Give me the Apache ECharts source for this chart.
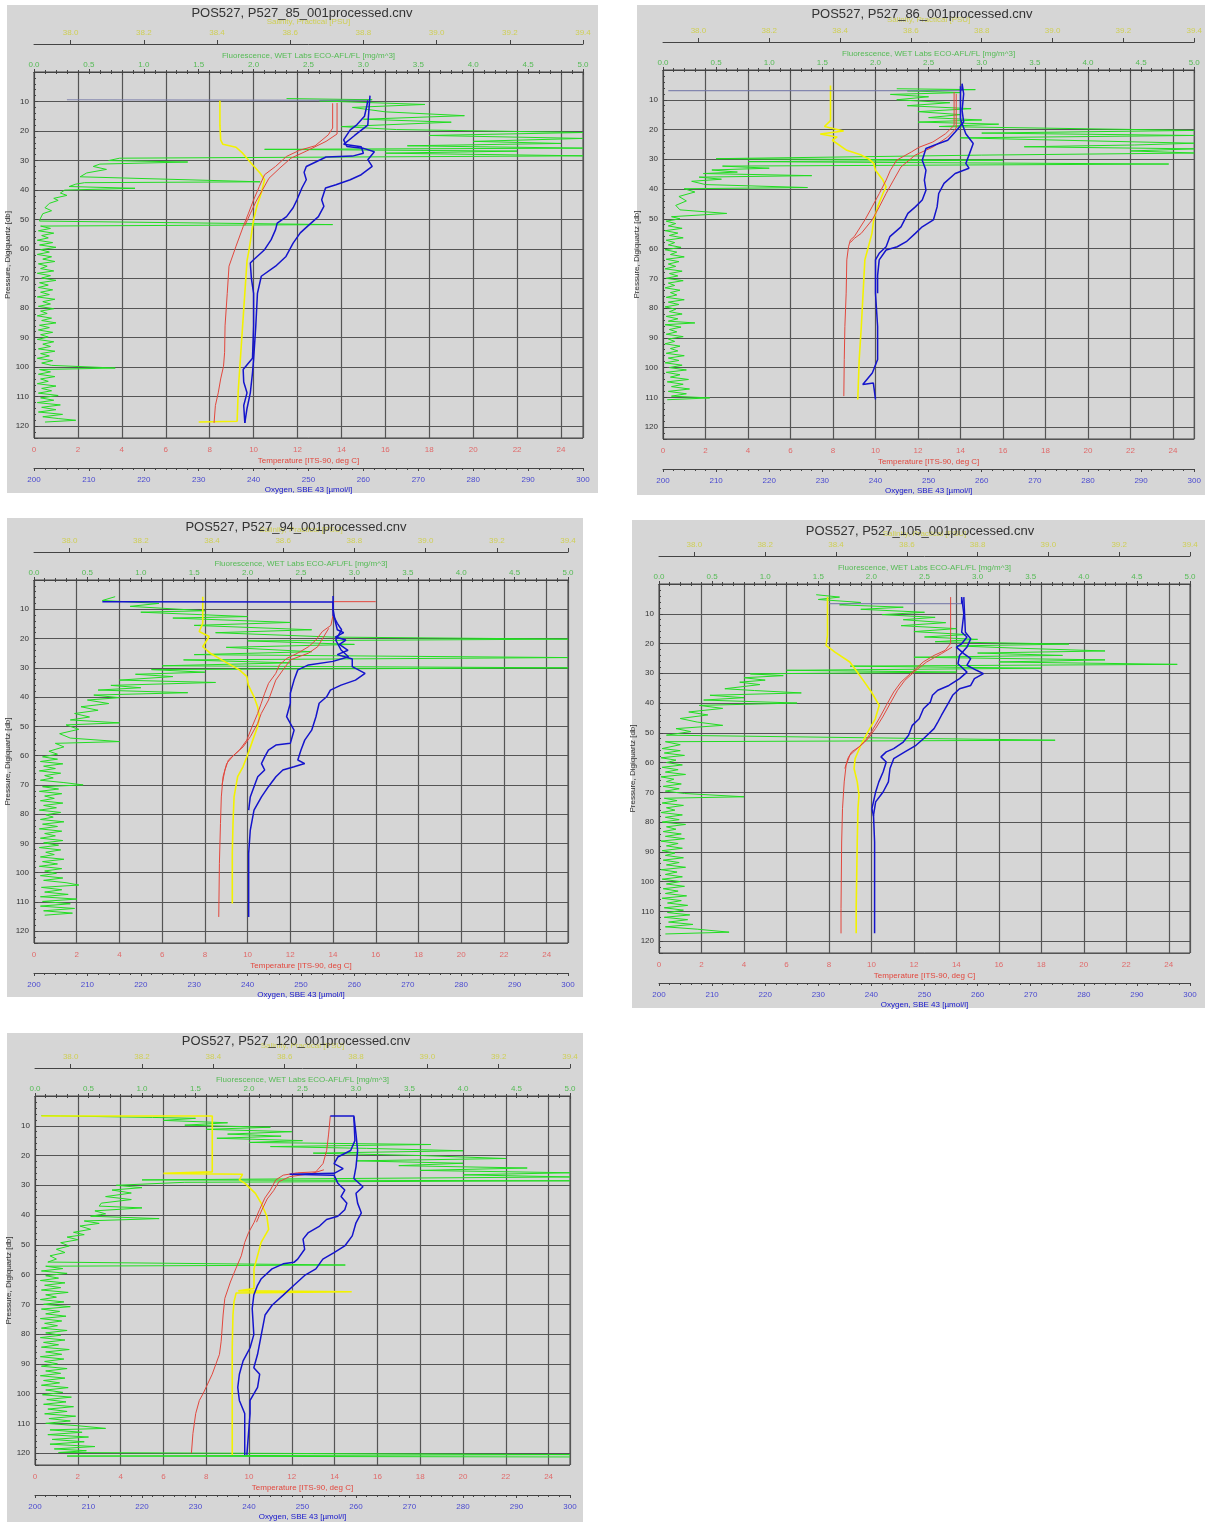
<!DOCTYPE html>
<html>
<head>
<meta charset="utf-8">
<script src="https://cdn.jsdelivr.net/npm/echarts@6/dist/echarts.min.js"></script>
<style>html,body{margin:0;padding:0;background:#fff;}#c{width:1205px;height:1522px;}</style>
</head>
<body>
<div id="c"></div>
<script>
// ---------------- DATA ----------------
const TITLES = ['POS527, P527_85_001processed.cnv','POS527, P527_86_001processed.cnv','POS527, P527_94_001processed.cnv','POS527, P527_105_001processed.cnv','POS527, P527_120_001processed.cnv'];
const SAL_TICKS = [38.0,38.2,38.4,38.6,38.8,39.0,39.2,39.4];

// Panel 1  [value, pressure]
const p1Sal = [[38.408,9.5],[38.408,18],[38.41,23],[38.416,24.5],[38.452,25.5],[38.47,27.5],[38.494,31],[38.518,34.3],[38.53,36.5],[38.521,41],[38.509,45.5],[38.5,50],[38.494,55],[38.488,60],[38.482,64],[38.476,75],[38.47,86],[38.464,97],[38.458,108],[38.455,118.3],[38.35,118.6]];
const p1TempDown = [[13.6,10.6],[13.6,19],[13.4,21.3],[12.8,25],[12.1,26.5],[11.5,28.6],[11.0,32],[10.5,34.8],[10.26,38.8],[10.0,43.3],[9.77,47.8],[9.53,52.3],[9.2,59],[8.88,65.8],[8.8,75],[8.7,86],[8.68,95],[8.63,99.7],[8.5,104],[8.39,108.7],[8.26,113],[8.2,118.9]];
const p1TempUp = [[13.8,10.5],[13.8,21],[13.3,23.5],[12.4,26.8],[11.7,29.2],[11.2,32.5],[10.7,36],[10.4,40],[10.1,44],[9.85,48],[9.6,52]];
const p1OxyStart = [[206,9.4],[260.8,9.6]];
const p1OxyDown = [[260.8,9.6],[260.6,11.7],[260.2,15],[258.8,17.9],[257.6,19.6],[256.4,23],[257,25.2],[259.9,25.8],[262,27],[260.8,29.7],[261.6,32],[259.6,34.8],[257.6,36.5],[255,38.2],[253.1,39.3],[252.4,43.3],[252.8,45.5],[251.8,49],[249.8,52.3],[248.5,54.5],[247.2,58],[245.9,62.5],[244,65.8],[241.4,69.2],[240.7,75],[240.4,86],[240,97.4],[239.8,101.9],[239.4,108.7],[238.8,114],[238.4,118.9]];
const p1OxyUp = [[261.2,8],[260.8,18],[258.4,21.5],[256.4,24.5],[259.6,25.3],[260,27.5],[258,28.5],[253.2,28.8],[249.6,32],[249.2,34],[249.6,36.5],[248.8,39.3],[247.9,43.3],[247.2,46],[246,49],[244.3,51.2],[244,53.4],[243.2,56.8],[242,60.2],[240,63.6],[239.4,64.7],[239.6,70],[240,75],[240,86],[239.8,97],[238.1,100.8],[238.2,105],[238.8,108.7],[238.2,113],[238.4,118.9]];
const p1Fl = [[2.3,9.0],[3.08,9.4],[2.6,9.8],[3.56,11.0],[2.9,12],[3.2,13.5],[3.92,14.8],[3.0,16],[3.8,17],[2.8,18.5],[3.3,19.5],[5.0,20.5],[3.6,21.5],[5.0,22.5],[4.0,23.5],[4.8,24.2],[3.4,25],[5.0,25.8],[2.1,26.2],[4.4,26.8],[3.2,27.5],[5.0,28.4],[0.78,29.2],[0.68,30],[1.4,30.5],[0.6,31.2],[0.54,32],[0.66,33],[0.48,34.2],[0.42,35.5],[2.06,37.2],[0.46,37.5],[0.38,38],[0.32,38.8],[0.92,39.4],[0.28,40],[0.24,41],[0.3,41.8],[0.18,42.8],[0.22,43.5],[0.14,44.5],[0.1,46],[0.16,47],[0.08,48],[0.06,49.5],[0.05,50.5],[2.72,51.7],
[0.06,52.2],[0.15,53.0],[0.04,53.8],[0.18,54.6],[0.07,55.4],[0.13,56.2],[0.03,57.0],[0.17,57.8],[0.05,58.6],[0.2,59.4],[0.06,60.2],[0.14,61.0],[0.03,61.8],[0.16,62.6],[0.08,63.4],[0.19,64.2],[0.04,65.0],[0.12,65.8],[0.06,66.6],[0.18,67.4],[0.03,68.2],[0.15,69.0],[0.07,69.8],[0.2,70.6],[0.05,71.4],[0.13,72.2],[0.04,73.0],[0.17,73.8],[0.06,74.6],[0.14,75.4],[0.03,76.2],[0.19,77.0],[0.08,77.8],[0.15,78.6],[0.04,79.4],[0.18,80.2],[0.06,81.0],[0.12,81.8],[0.03,82.6],[0.16,83.4],[0.07,84.2],[0.2,85.0],[0.05,85.8],[0.14,86.6],[0.04,87.4],[0.17,88.2],[0.06,89.0],[0.13,89.8],[0.03,90.6],[0.18,91.4],[0.08,92.2],[0.15,93.0],[0.04,93.8],[0.19,94.6],[0.06,95.4],[0.14,96.2],[0.03,97.0],[0.17,97.8],[0.07,98.6],[0.16,99.4],[0.74,100.3],[0.05,100.8],[0.15,101.6],[0.04,102.4],[0.19,103.2],[0.06,104.0],[0.13,104.8],[0.03,105.6],[0.2,106.4],[0.07,107.2],[0.16,108.0],[0.04,108.8],[0.22,109.6],[0.06,110.4],[0.18,111.2],[0.03,112.0],[0.24,112.8],[0.07,113.6],[0.2,114.4],[0.04,115.2],[0.26,116.0],[0.08,116.8],[0.22,117.4],[0.38,118.0],[0.1,118.6]];

// Panel 2
const p2Sal = [[38.373,5.2],[38.373,17],[38.356,19],[38.41,20.5],[38.344,21.5],[38.392,22.5],[38.378,23.6],[38.419,27],[38.46,28.6],[38.48,29.8],[38.495,31.4],[38.5,33.7],[38.521,37],[38.53,39.3],[38.521,41.5],[38.506,46],[38.495,50.4],[38.49,54.9],[38.48,59.4],[38.47,63.8],[38.465,75],[38.46,86.2],[38.454,97.3],[38.45,110.7]];
const p2TempDown = [[13.7,7.4],[13.7,18.6],[13.3,21.4],[12.7,24.2],[12.04,26],[11.7,27.5],[11.0,30.3],[10.7,33.7],[10.5,37],[10.18,41.5],[9.84,46],[9.5,50.4],[9.0,56],[8.82,57.1],[8.73,59.4],[8.65,63.8],[8.62,75],[8.56,86.2],[8.53,97.3],[8.51,109.6]];
const p2TempUp = [[13.8,8],[13.8,19.5],[13.4,22.5],[12.7,25.9],[11.87,28.6],[11.2,32.6],[10.85,37],[10.5,41.5],[10.18,46],[9.84,50.4],[9.33,54.9],[9.0,56.6],[8.82,58]];
const p2OxyStart = [[201,6.9],[256.3,6.9]];
const p2OxyDown = [[256.3,6.9],[256.3,4.6],[256.6,8],[256.3,13.6],[256.6,17.5],[255.0,20.8],[253.6,23.6],[251.9,24.7],[249.5,26.4],[248.8,30.3],[249.5,33.7],[249.2,37],[249.5,40.4],[248.8,43.7],[247.5,46],[246.1,48.2],[244.8,52.7],[243.4,54.9],[242.7,56],[242.0,59.4],[240.7,61.6],[240.0,63.8],[240.0,75],[240.4,86.2],[240.4,97.3],[239.4,101.8],[237.6,105.7],[239.6,105.2],[240.0,110.7]];
const p2OxyUp = [[256.0,5.5],[256.0,16.5],[257.0,21.4],[258.4,24.7],[257.7,28.1],[257.0,31.4],[257.6,33],[255.0,34.8],[252.9,38.1],[251.9,41.5],[251.6,46],[250.9,50.4],[248.8,52.7],[247.5,54.9],[245.8,57.7],[244.1,59.4],[242.0,60.5],[240.7,63.8],[240.4,69],[240.4,75]];
const p2Fl = [[2.2,6.3],[2.94,6.6],[2.3,7.0],[2.8,7.6],[2.14,8.2],[2.5,9],[2.2,10],[2.7,11],[2.3,12],[2.9,13],[2.4,14],[2.8,15],[2.5,16],[3.0,16.8],[2.4,17.5],[3.16,18.2],[2.6,19],[5.0,20.3],[3.0,21.2],[5.0,22],[2.8,22.8],[4.0,23.8],[5.0,24.6],[4.44,25.2],[3.4,25.8],[5.0,26.5],[4.4,27.2],[5.0,27.9],[3.0,28.6],[0.5,29.8],[3.2,30.3],[0.8,30.8],[4.76,31.6],[0.56,32.3],[1.0,33],[0.46,33.6],[0.7,34.3],[0.38,34.8],[1.4,35.5],[0.34,36],[0.55,36.7],[0.27,37.4],[0.4,38.5],[1.36,39.5],[0.2,39.9],[0.3,41],[0.15,42.5],[0.22,44],[0.12,45.5],[0.16,47],[0.6,48.2],[0.08,49.3],
[0.16,50.0],[0.03,50.8],[0.12,51.6],[0.05,52.4],[0.18,53.2],[0.02,54.0],[0.14,54.8],[0.06,55.6],[0.19,56.4],[0.03,57.2],[0.11,58.0],[0.05,58.8],[0.17,59.6],[0.02,60.4],[0.13,61.2],[0.07,62.0],[0.2,62.8],[0.03,63.6],[0.15,64.4],[0.05,65.2],[0.12,66.0],[0.02,66.8],[0.18,67.6],[0.06,68.4],[0.14,69.2],[0.03,70.0],[0.19,70.8],[0.05,71.6],[0.11,72.4],[0.02,73.2],[0.16,74.0],[0.07,74.8],[0.13,75.6],[0.03,76.4],[0.2,77.2],[0.05,78.0],[0.15,78.8],[0.02,79.6],[0.12,80.4],[0.06,81.2],[0.18,82.0],[0.03,82.8],[0.14,83.6],[0.05,84.4],[0.3,85.0],[0.02,85.6],[0.17,86.4],[0.06,87.2],[0.13,88.0],[0.03,88.8],[0.19,89.6],[0.05,90.4],[0.11,91.2],[0.02,92.0],[0.16,92.8],[0.07,93.6],[0.14,94.4],[0.03,95.2],[0.2,96.0],[0.05,96.8],[0.15,97.6],[0.02,98.4],[0.18,99.2],[0.06,100.0],[0.22,100.8],[0.03,101.6],[0.16,102.4],[0.07,103.2],[0.24,104.0],[0.04,104.8],[0.19,105.6],[0.08,106.4],[0.25,107.2],[0.05,108.0],[0.22,108.8],[0.08,109.6],[0.44,110.2],[0.04,110.8]];

// Panel 3
const p3Sal = [[38.374,5.7],[38.374,14.8],[38.364,17.6],[38.392,19.3],[38.374,22.8],[38.395,25],[38.436,27.9],[38.477,30.7],[38.498,33],[38.502,35.9],[38.518,39.9],[38.528,43.3],[38.533,46.7],[38.528,50.1],[38.518,53.5],[38.508,57],[38.498,60.4],[38.487,63.8],[38.472,67.2],[38.462,74.1],[38.459,83.2],[38.457,93.4],[38.457,110.5]];
const p3TempDown = [[16.0,7.4],[14.0,7.4],[14.0,12],[13.9,15.5],[13.5,17.6],[13.2,20.5],[12.85,22.8],[12.34,25],[11.83,26.8],[11.49,29],[11.32,31.9],[10.98,35.3],[10.8,38.7],[10.64,42.1],[10.47,45.6],[10.21,50.1],[9.96,54.7],[9.62,58.1],[9.28,60.4],[9.02,62.7],[8.85,67.2],[8.77,74.1],[8.73,83.2],[8.68,96.9],[8.65,115.1]];
const p3TempUp = [[13.8,16.5],[13.28,22.8],[12.85,25],[12.0,27.3],[11.66,30.7],[11.32,34.2],[11.15,37.6],[10.98,41],[10.64,45.6],[10.47,49],[10.13,53.5],[9.79,57],[9.45,59.2],[9.1,61.5],[8.94,64.9],[8.8,70]];
const p3OxyStart = [];
const p3OxyDown = [[212.8,7.4],[256.0,7.5],[256.0,10],[256.4,14],[256.8,17],[258.0,18],[256.4,19.5],[258.4,20.5],[257.2,22],[258.8,24],[256.8,25.5],[259.6,27],[259.6,29.6],[262.0,31.9],[260.2,34.2],[257.5,35.9],[255.5,37.6],[254.8,39.9],[253.4,42.1],[252.8,46.7],[252.0,51.3],[250.7,54.7],[250.0,58.1],[249.4,61.5],[250.7,62.7],[248.7,63.8],[246.6,64.9],[245.3,67.2],[243.9,70.6],[242.6,74.1],[241.2,78.6],[240.5,85.5],[240.2,93.4],[240.2,104.8],[240.2,115.1]];
const p3OxyUp = [[256.0,5.5],[256.0,12],[256.8,14.8],[257.6,17],[256.5,20.5],[257.5,23.9],[258.9,26.2],[256.0,27.8],[251.4,29],[249.4,30.7],[248.7,34.2],[248.0,38.7],[248.0,42.1],[247.3,46.7],[248.7,51.3],[248.0,55.8],[245.3,56.4],[243.9,58.1],[243.2,60.4],[242.6,62.7],[243.2,64.9],[241.9,67.2],[241.2,70.6],[240.5,74.1],[240.2,78.6]];
const p3Fl = [[0.76,5.7],[0.64,7.0],[1.17,8],[0.9,9],[1.6,10.5],[1.0,11],[2.0,12.5],[1.3,13],[2.4,14.5],[1.5,15.5],[2.6,17],[1.7,18],[2.8,19.5],[5.0,20.2],[2.0,20.8],[3.0,22],[1.8,23],[2.6,24.5],[1.5,25.5],[5.0,26.5],[1.4,27.3],[2.4,28.3],[1.2,29.3],[5.0,30],[1.1,30.6],[1.6,31.5],[0.95,32.2],[1.3,33],[0.8,34.2],[1.7,35],[0.72,36],[1.0,36.8],[0.6,37.6],[1.44,38.5],[0.56,39.3],[0.8,40.2],[0.5,41],[0.7,42.2],[0.44,43.3],[0.6,44.5],[0.38,45.6],[0.52,46.8],[0.34,47.8],[0.8,48.8],[0.3,49.5],[0.42,51],[0.24,52.5],[0.34,54],[0.8,55.2],[0.2,55.8],[0.28,57],[0.14,58.5],[0.22,59.5],[0.08,60.4],
[0.22,61.2],[0.06,62.0],[0.27,62.8],[0.09,63.6],[0.2,64.4],[0.05,65.2],[0.25,66.0],[0.1,66.8],[0.18,67.6],[0.06,68.4],[0.28,69.2],[0.46,70.0],[0.08,70.6],[0.23,71.4],[0.05,72.2],[0.26,73.0],[0.1,73.8],[0.19,74.6],[0.06,75.4],[0.27,76.2],[0.09,77.0],[0.21,77.8],[0.05,78.6],[0.25,79.4],[0.11,80.2],[0.18,81.0],[0.06,81.8],[0.28,82.6],[0.08,83.4],[0.22,84.2],[0.05,85.0],[0.26,85.8],[0.1,86.6],[0.2,87.4],[0.06,88.2],[0.27,89.0],[0.09,89.8],[0.23,90.6],[0.05,91.4],[0.25,92.2],[0.11,93.0],[0.19,93.8],[0.06,94.6],[0.28,95.4],[0.08,96.2],[0.22,97.0],[0.05,97.8],[0.26,98.6],[0.1,99.4],[0.21,100.2],[0.06,101.0],[0.27,101.8],[0.09,102.6],[0.3,103.4],[0.42,104.2],[0.07,105.0],[0.26,105.8],[0.1,106.6],[0.32,107.4],[0.06,108.2],[0.4,109.0],[0.08,109.8],[0.34,110.6],[0.06,111.4],[0.38,112.2],[0.09,113.0],[0.36,113.8],[0.1,114.5]];

// Panel 4
const p4Sal = [[38.376,4.4],[38.376,17.3],[38.372,20.6],[38.397,22.9],[38.439,26.2],[38.46,29.6],[38.48,32.9],[38.5,36.3],[38.522,40.8],[38.511,45.3],[38.49,49.7],[38.47,54.2],[38.454,58.7],[38.451,62],[38.46,66.5],[38.465,71],[38.462,75.5],[38.46,86.7],[38.457,109],[38.457,117.4]];
const p4TempDown = [[13.73,4.4],[13.73,15],[13.73,20],[13.47,22.3],[12.95,24],[12.44,26.2],[11.92,29.6],[11.4,32.9],[11.05,36.3],[10.7,40.8],[10.36,45.3],[10.0,49.7],[9.67,53.1],[9.33,55.3],[8.98,57.6],[8.81,60.9],[8.72,66.5],[8.64,75.5],[8.6,86.7],[8.57,109],[8.57,117.4]];
const p4TempUp = [[13.8,21.2],[13.3,23.4],[12.6,26.2],[12.1,29],[11.57,32.4],[11.23,35.7],[10.88,40.2],[10.53,44.7],[10.19,48.6],[9.84,52],[9.41,54.8],[9.07,56.4],[8.9,58.5],[8.75,62]];
const p4OxyStart = [[232.0,6.6],[257.0,6.6]];
const p4OxyDown = [[257.0,6.6],[257.0,4.4],[257.4,10],[257.0,16.2],[258.0,17.8],[257.0,20.1],[256.0,21.2],[257.4,23.4],[258.7,25.1],[258.0,27.3],[259.8,29],[261.1,30.1],[259.4,31.8],[258.7,34.1],[256.6,35.2],[255.3,37.4],[254.6,39.7],[253.9,41.9],[253.2,44.1],[252.5,46.4],[251.8,48.6],[249.8,52],[248.4,54.2],[246.3,56.4],[244.2,58.7],[243.5,62],[243.2,66.5],[242.2,69.9],[240.8,73.2],[240.4,77.7],[240.6,86.7],[240.6,97.8],[240.6,109],[240.6,117.4]];
const p4OxyUp = [[257.4,4.4],[257.7,16.2],[258.7,18.4],[258.0,21.2],[256.6,24],[256.3,26.8],[258.0,29.6],[256.6,31.8],[254.6,34.1],[252.5,35.7],[251.5,37.4],[251.1,39.7],[249.8,41.9],[249.0,45.3],[247.7,47.5],[247.0,50.8],[246.0,53.1],[244.2,55.3],[242.8,56.4],[241.8,58.1],[242.8,59.8],[242.2,63.2],[241.4,66.5],[240.8,69.9],[240.1,75.5],[240.4,78]];
const p4Fl = [[1.48,3.6],[1.7,4.4],[1.5,5.2],[1.9,6.2],[1.7,7],[2.3,7.8],[1.9,8.5],[2.5,9.5],[2.1,10.3],[2.6,11.2],[2.3,12],[2.7,13],[2.28,14],[2.8,15],[2.4,16],[2.9,17],[2.5,17.8],[3.0,18.6],[2.6,19.4],[3.86,20.2],[2.8,20.8],[3.4,21.6],[4.2,22.5],[3.0,23.2],[3.8,24],[2.4,24.6],[4.2,25.5],[3.2,26.2],[4.88,27],[1.8,27.6],[3.6,28.3],[1.2,29],[2.8,29.6],[0.86,30.2],[1.17,30.8],[0.8,31.5],[1.0,32.3],[0.76,33],[0.95,33.8],[0.62,35.2],[0.9,35.8],[1.34,36.6],[0.48,37.4],[0.8,38.2],[0.42,39],[1.3,40],[0.38,40.8],[0.6,41.8],[0.28,43],[0.46,44],[0.2,45.2],[0.36,46.4],[0.6,47.5],[0.16,48.6],[0.3,49.6],[0.07,50.8],[3.73,52.5],[0.06,53],[0.2,54],[0.03,55.3],
[0.2,56.0],[0.05,56.8],[0.24,57.6],[0.02,58.4],[0.16,59.2],[0.07,60.0],[0.22,60.8],[0.03,61.6],[0.18,62.4],[0.06,63.2],[0.25,64.0],[0.02,64.8],[0.14,65.6],[0.07,66.4],[0.21,67.2],[0.04,68.0],[0.19,68.8],[0.06,69.6],[0.24,70.4],[0.8,71.5],[0.05,72.0],[0.17,72.8],[0.03,73.6],[0.23,74.4],[0.07,75.2],[0.15,76.0],[0.02,76.8],[0.22,77.6],[0.06,78.4],[0.19,79.2],[0.03,80.0],[0.25,80.8],[0.07,81.6],[0.16,82.4],[0.04,83.2],[0.21,84.0],[0.06,84.8],[0.24,85.6],[0.02,86.4],[0.18,87.2],[0.07,88.0],[0.22,88.8],[0.03,89.6],[0.15,90.4],[0.06,91.2],[0.23,92.0],[0.04,92.8],[0.19,93.6],[0.07,94.4],[0.25,95.2],[0.02,96.0],[0.17,96.8],[0.06,97.6],[0.22,98.4],[0.03,99.2],[0.2,100.0],[0.07,100.8],[0.24,101.6],[0.04,102.4],[0.18,103.2],[0.06,104.0],[0.26,104.8],[0.03,105.6],[0.21,106.4],[0.08,107.2],[0.27,108.0],[0.05,108.8],[0.23,109.6],[0.08,110.4],[0.29,111.2],[0.05,112.0],[0.27,112.8],[0.09,113.6],[0.32,114.4],[0.06,115.2],[0.36,116.0],[0.66,117.0],[0.06,117.6]];

// Panel 5
const p5Sal = [[37.918,6.7],[38.397,6.7],[38.397,15],[38.397,25.5],[38.26,26],[38.482,26.3],[38.473,28.2],[38.488,29.3],[38.518,32.7],[38.534,36],[38.55,40.4],[38.555,44.8],[38.534,49.2],[38.524,53.7],[38.514,58.1],[38.514,64.7],[38.47,65.5],[38.788,65.8],[38.464,66.2],[38.458,69.1],[38.455,73.6],[38.453,84.6],[38.453,106.7],[38.453,120.6]];
const p5TempDown = [[13.8,6.7],[13.72,12.8],[13.63,18.3],[13.46,22.7],[13.12,25.5],[12.27,25.8],[11.6,26.6],[11.25,28.2],[11.0,31.6],[10.74,34.3],[10.49,38.2],[10.23,42.6],[9.98,45.9],[9.8,49.2],[9.64,53.7],[9.38,58.1],[9.13,62.5],[8.87,68],[8.79,73.6],[8.7,82.4],[8.62,86.8],[8.28,93.5],[7.85,100.1],[7.68,102.3],[7.51,106.7],[7.38,113.4],[7.31,120]];
const p5TempUp = [[13.5,24.8],[12.9,26.1],[11.9,27.1],[11.4,28.8],[11.15,31.8],[10.85,34.6],[10.6,38.3],[10.35,42.4]];
const p5OxyStart = [];
const p5OxyDown = [[255.2,6.7],[259.6,6.7],[260.0,12.8],[260.3,18.3],[260.0,23.8],[259.6,27.7],[261.3,30.5],[260.0,32.7],[260.3,36],[261.0,39.3],[260.0,42.6],[259.3,47],[257.9,50.4],[255.9,52.6],[253.8,54.8],[252.5,58.1],[250.4,60.3],[248.4,63.6],[246.4,66.9],[244.3,70.3],[243.0,73.6],[242.3,80.2],[241.6,86.8],[240.9,91.3],[242.0,93.5],[241.6,97.9],[240.2,102.3],[240.2,106.7],[239.6,120.6]];
const p5OxyUp = [[259.6,7],[259.8,15],[259.0,18.3],[256.6,20.5],[255.9,22.7],[257.6,24.4],[255.9,26],[247.6,26.3],[255.9,26.6],[256.6,29.3],[257.9,31.6],[257.2,33.8],[258.3,36],[257.9,38.2],[256.6,40.4],[254.5,41.5],[253.2,43.7],[251.1,45.9],[250.1,48.1],[250.4,51.5],[249.1,54.8],[248.4,55.9],[246.4,56.4],[244.3,58.1],[242.3,61.4],[241.6,63.6],[240.9,66.9],[240.6,71.4],[240.9,80.2],[240.2,84.6],[238.9,89],[238.2,93.5],[237.9,97.9],[238.2,102.3],[239.2,106.7],[239.2,120.6]];
const p5Fl = [[0.06,6.6],[0.24,6.7],[1.1,7.2],[1.5,7.5],[1.2,8.2],[1.8,9],[1.4,9.8],[2.2,10.5],[1.6,11.2],[2.4,12],[1.8,12.8],[2.3,13.5],[1.7,14.2],[2.5,15],[2.0,15.6],[3.7,16.3],[2.2,17],[3.1,17.6],[4.0,18.4],[2.6,19.2],[3.6,20],[4.4,21],[3.0,21.8],[4.0,22.6],[3.4,23.4],[4.6,24.2],[3.6,25],[5.0,25.8],[4.0,26.5],[5.0,27.2],[1.0,28.2],[5.0,28.5],[1.4,29],[0.76,30],[1.0,30.8],[0.72,31.6],[0.9,32.6],[0.66,33.8],[0.9,34.8],[0.62,36],[0.6,37],[1.0,37.6],[0.56,38.6],[0.66,39.6],[0.52,40.4],[1.16,41.2],[0.46,42],[0.6,42.8],[0.42,43.7],[0.52,44.8],[0.36,45.8],[0.46,46.6],[0.3,47.4],[0.4,48.3],[0.24,49.3],[0.32,50.4],[0.2,51.5],[0.28,52.6],[0.14,53.7],[0.2,54.8],[0.12,55.8],[2.9,56.8],[0.1,57.2],
[0.26,58.0],[0.06,58.8],[0.3,59.6],[0.1,60.4],[0.22,61.2],[0.05,62.0],[0.28,62.8],[0.09,63.6],[0.24,64.4],[0.06,65.2],[0.31,66.0],[0.1,66.8],[0.2,67.6],[0.05,68.4],[0.27,69.2],[0.08,70.0],[0.33,70.8],[0.06,71.6],[0.23,72.4],[0.1,73.2],[0.29,74.0],[0.05,74.8],[0.25,75.6],[0.09,76.4],[0.21,77.2],[0.06,78.0],[0.3,78.8],[0.1,79.6],[0.24,80.4],[0.05,81.2],[0.28,82.0],[0.08,82.8],[0.22,83.6],[0.06,84.4],[0.32,85.2],[0.1,86.0],[0.25,86.8],[0.05,87.6],[0.27,88.4],[0.09,89.2],[0.21,90.0],[0.06,90.8],[0.3,91.6],[0.1,92.4],[0.24,93.2],[0.05,94.0],[0.28,94.8],[0.08,95.6],[0.23,96.4],[0.06,97.2],[0.31,98.0],[0.1,98.8],[0.26,99.6],[0.07,100.4],[0.34,101.2],[0.11,102.0],[0.29,102.8],[0.08,103.6],[0.36,104.4],[0.12,105.2],[0.3,106.0],[0.09,106.8],[0.38,107.6],[0.13,108.4],[0.33,109.2],[0.1,110.0],[0.4,110.8],[0.66,111.7],[0.14,112.2],[0.44,113.0],[0.12,113.8],[0.5,114.6],[0.16,115.4],[0.46,116.2],[0.14,117.0],[0.56,117.8],[0.18,118.6],[0.48,119.2],[0.22,119.8],[5.0,120.5],[0.3,121],[5.0,121.3]];

// ---------------- LAYOUT ----------------
const FONT = '"Liberation Sans", Arial, sans-serif';
const LAYOUT = [
  {box:[7,5,591,488],    grid:[34,72,549,366],   title:[302,13]},
  {box:[637,5,568,490],  grid:[663,70,532,369],  title:[922,14]},
  {box:[7,518,576,479],  grid:[34,580,534,363],  title:[296,527]},
  {box:[632,520,573,488],grid:[659,584,531,369], title:[920,531]},
  {box:[7,1033,576,489], grid:[35,1096,535,374], title:[296,1041]}
];
const PANELS = [
  {fl:p1Fl, sal:p1Sal, t:[p1TempDown,p1TempUp], o:[p1OxyDown,p1OxyUp], os:p1OxyStart},
  {fl:p2Fl, sal:p2Sal, t:[p2TempDown,p2TempUp], o:[p2OxyDown,p2OxyUp], os:p2OxyStart},
  {fl:p3Fl, sal:p3Sal, t:[p3TempDown,p3TempUp], o:[p3OxyDown,p3OxyUp], os:p3OxyStart},
  {fl:p4Fl, sal:p4Sal, t:[p4TempDown,p4TempUp], o:[p4OxyDown,p4OxyUp], os:p4OxyStart},
  {fl:p5Fl, sal:p5Sal, t:[p5TempDown,p5TempUp], o:[p5OxyDown,p5OxyUp], os:p5OxyStart}
];
const C = {grid:'#555555', axis:'#444444', red:'#e2473d', redLbl:'#e06a6a', blue:'#1414cc', blueLbl:'#4a4ad0', blueFaint:'#7478a8', green:'#22dd22', greenLbl:'#55bb55', yellow:'#f2f200', yellowLbl:'#cfcf55', bg:'#d6d6d6'};

const grids = [], xAxes = [], yAxes = [], series = [], graphics = [];
LAYOUT.forEach((L, i) => {
  graphics.push({type:'rect', z:-100, silent:true, shape:{x:L.box[0], y:L.box[1], width:L.box[2], height:L.box[3]}, style:{fill:C.bg}});
  graphics.push({type:'text', z:100, x:L.title[0], y:L.title[1], style:{text:TITLES[i], fill:'#333', font:'13px ' + FONT, textAlign:'center', textVerticalAlign:'middle'}});
  grids.push({left:L.grid[0], top:L.grid[1], width:L.grid[2], height:L.grid[3], show:true, backgroundColor:C.bg, borderColor:C.axis, borderWidth:1});
  const axLine = {show:true, lineStyle:{color:C.axis, width:1}};
  xAxes.push({type:'value', gridIndex:i, position:'bottom', min:0, max:25, interval:2,
    axisLine:axLine, axisTick:{show:true, length:3, lineStyle:{color:C.axis}}, minorTick:{show:true, splitNumber:4, length:2, lineStyle:{color:C.axis}},
    axisLabel:{color:C.redLbl, fontSize:8, margin:8, showMaxLabel:false, fontFamily:FONT},
    splitLine:{show:true, lineStyle:{color:C.grid, width:1.2}},
    name:'Temperature [ITS-90, deg C]', nameLocation:'middle', nameGap:19, nameTextStyle:{color:C.red, fontSize:8, fontFamily:FONT}});
  xAxes.push({type:'value', gridIndex:i, position:'bottom', offset:30, min:200, max:300, interval:10,
    axisLine:axLine, axisTick:{show:true, length:3, lineStyle:{color:C.axis}}, minorTick:{show:true, splitNumber:5, length:2, lineStyle:{color:C.axis}},
    axisLabel:{color:C.blueLbl, fontSize:8, margin:8, fontFamily:FONT}, splitLine:{show:false},
    name:'Oxygen, SBE 43 [µmol/l]', nameLocation:'middle', nameGap:18, nameTextStyle:{color:C.blue, fontSize:8, fontFamily:FONT}});
  xAxes.push({type:'value', gridIndex:i, position:'top', min:0, max:5, interval:0.5,
    axisLine:axLine, axisTick:{show:true, length:3, lineStyle:{color:C.axis}}, minorTick:{show:true, splitNumber:5, length:2, lineStyle:{color:C.axis}},
    axisLabel:{color:C.greenLbl, fontSize:8, margin:3, fontFamily:FONT, formatter:v => v.toFixed(1)}, splitLine:{show:false},
    name:'Fluorescence, WET Labs ECO-AFL/FL [mg/m^3]', nameLocation:'middle', nameGap:12, nameTextStyle:{color:C.greenLbl, fontSize:8, fontFamily:FONT}});
  xAxes.push({type:'value', gridIndex:i, position:'top', offset:28, min:37.9, max:39.4,
    axisLine:axLine, axisTick:{show:true, length:4, customValues:SAL_TICKS, lineStyle:{color:C.axis}},
    axisLabel:{color:C.yellowLbl, fontSize:8, margin:7, customValues:SAL_TICKS, fontFamily:FONT, formatter:v => v.toFixed(1)}, splitLine:{show:false},
    name:'Salinity, Practical [PSU]', nameLocation:'middle', nameGap:18, nameTextStyle:{color:C.yellowLbl, fontSize:8, fontFamily:FONT}});
  yAxes.push({type:'value', gridIndex:i, inverse:true, min:0, max:124, interval:10,
    axisLine:axLine, axisTick:{show:true, inside:true, length:4, lineStyle:{color:C.axis}}, minorTick:{show:true, splitNumber:5, length:2, lineStyle:{color:C.axis}},
    axisLabel:{color:'#333', fontSize:8, margin:5, showMinLabel:false, showMaxLabel:false, fontFamily:FONT},
    splitLine:{show:true, lineStyle:{color:C.grid, width:1.2}},
    name:'Pressure, Digiquartz [db]', nameLocation:'middle', nameGap:19, nameRotate:90, nameTextStyle:{color:'#333', fontSize:8, fontFamily:FONT}});

  const P = PANELS[i];
  const base = {type:'line', showSymbol:false, symbol:'none', animation:false, silent:true, clip:true, yAxisIndex:i};
  series.push(Object.assign({}, base, {xAxisIndex:4*i+2, data:P.fl, lineStyle:{color:C.green, width:1}, z:2}));
  series.push(Object.assign({}, base, {xAxisIndex:4*i+3, data:P.sal, lineStyle:{color:C.yellow, width:1.6}, z:3}));
  P.t.forEach(d => series.push(Object.assign({}, base, {xAxisIndex:4*i, data:d, lineStyle:{color:C.red, width:1}, z:4})));
  if (P.os.length) series.push(Object.assign({}, base, {xAxisIndex:4*i+1, data:P.os, lineStyle:{color:C.blueFaint, width:1.2, opacity:0.85}, z:3}));
  P.o.forEach(d => series.push(Object.assign({}, base, {xAxisIndex:4*i+1, data:d, lineStyle:{color:C.blue, width:1.5}, z:5})));
});

const chart = echarts.init(document.getElementById('c'));
chart.setOption({
  animation:false,
  backgroundColor:'#ffffff',
  textStyle:{fontFamily:FONT},
  graphic:{elements:graphics},
  grid:grids, xAxis:xAxes, yAxis:yAxes, series:series
});
</script>
</body>
</html>
